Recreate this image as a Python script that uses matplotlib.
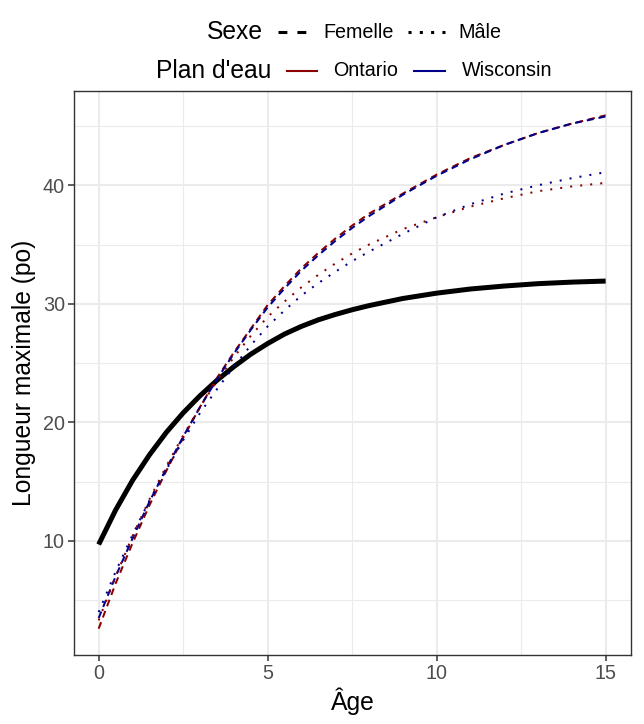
import matplotlib
matplotlib.use("Agg")
import matplotlib.pyplot as plt
from matplotlib.lines import Line2D

plt.rcParams['font.family'] = ['Liberation Sans', 'DejaVu Sans']

# ---- data ----
ages = [0, 0.5, 1, 1.5, 2, 2.5, 3, 3.5, 4, 4.5, 5, 5.5, 6, 6.5, 7, 7.5, 8,
        9, 10, 11, 12, 13, 14, 15]
overall = [9.7, 12.6, 15.1, 17.25, 19.15, 20.8, 22.25, 23.55, 24.7, 25.75, 26.65,
           27.45, 28.1, 28.65, 29.1, 29.5, 29.85,
           30.45, 30.9, 31.25, 31.5, 31.7, 31.83, 31.92]
ontario_femelle = [2.6, 6.4, 9.8, 13.0, 15.9, 18.7, 21.3, 23.75, 25.9, 27.9, 29.9,
                   31.5, 33.0, 34.3, 35.5, 36.6, 37.6,
                   39.3, 40.9, 42.3, 43.4, 44.4, 45.2, 45.9]
wisconsin_femelle = [3.5, 7.0, 10.2, 13.3, 16.1, 18.8, 21.3, 23.65, 25.8, 27.8, 29.7,
                     31.3, 32.8, 34.1, 35.3, 36.4, 37.4,
                     39.2, 40.8, 42.2, 43.4, 44.4, 45.2, 45.8]
ontario_male = [3.3, 7.0, 10.4, 13.5, 16.3, 18.9, 21.3, 23.5, 25.5, 27.3, 28.9,
                30.2, 31.4, 32.45, 33.4, 34.25, 35.0,
                36.3, 37.3, 38.2, 38.9, 39.5, 39.9, 40.2]
wisconsin_male = [4.0, 7.4, 10.5, 13.4, 16.0, 18.5, 20.8, 22.8, 24.7, 26.5, 28.1,
                  29.45, 30.7, 31.75, 32.7, 33.6, 34.4,
                  35.9, 37.3, 38.4, 39.3, 40.0, 40.6, 41.1]

x_ticks = [0, 5, 10, 15]
y_ticks = [10, 20, 30, 40]
sexe_labels = ["Femelle", "Mâle"]
plan_labels = ["Ontario", "Wisconsin"]

C_ONT = '#8B0000'
C_WIS = '#00008B'

W, H = 644, 724
fig = plt.figure(figsize=(W / 100, H / 100), dpi=100)
fig.patch.set_facecolor('white')

def fx(x):
    return x / W

def fy(y):
    return 1 - y / H

L, R, T, B = 74, 631, 91, 655
ax = fig.add_axes([fx(L), fy(B), (R - L) / W, (B - T) / H])

# grid like theme_bw
ax.set_xlim(-0.73, 15.75)
ax.set_ylim(0.38, 47.95)
ax.set_xticks(x_ticks)
ax.set_yticks(y_ticks)
ax.set_xticks([2.5, 7.5, 12.5], minor=True)
ax.set_yticks([5, 15, 25, 35, 45], minor=True)
ax.grid(True, which='major', color='#EBEBEB', lw=1.5)
ax.grid(True, which='minor', color='#EBEBEB', lw=0.8)
ax.set_axisbelow(True)
ax.tick_params(which='minor', length=0)
ax.tick_params(which='major', length=4.1, width=1.1, color='#333333',
               labelcolor='#4D4D4D', labelsize=14.2, pad=2.5)
for s in ax.spines.values():
    s.set_color('#333333')
    s.set_linewidth(1.0)

# data lines
ax.plot(ages, overall, color='black', lw=3.6, solid_capstyle='butt',
        solid_joinstyle='round', zorder=2)
dash = (3.45, 2.5)
dot = (1, 4)
ax.plot(ages, ontario_femelle, color=C_ONT, lw=1.45, ls=(0, dash), zorder=3)
ax.plot(ages, wisconsin_femelle, color=C_WIS, lw=1.45, ls=(0, dash), zorder=3)
ax.plot(ages, ontario_male, color=C_ONT, lw=1.45, ls=(0, dot), zorder=3)
ax.plot(ages, wisconsin_male, color=C_WIS, lw=1.45, ls=(0, dot), zorder=3)

ax.set_xlabel("Âge", fontsize=17.7, labelpad=3)
ax.set_ylabel("Longueur maximale (po)", fontsize=17.7, labelpad=5)

# ---- legends at top ----
r1, r2 = 32, 71
fig.text(fx(207), fy(r1), "Sexe", fontsize=17.7, va='center', ha='left')
fig.add_artist(Line2D([fx(278), fx(306)], [fy(r1), fy(r1)], color='black', lw=2.2,
                      ls=(0, (2.9, 3.3)), transform=fig.transFigure))
fig.text(fx(323), fy(r1), sexe_labels[0], fontsize=14.2, va='center', ha='left')
fig.add_artist(Line2D([fx(408), fx(445)], [fy(r1), fy(r1)], color='black', lw=2.2,
                      ls=(0, (1, 2.7)), transform=fig.transFigure))
fig.text(fx(458), fy(r1), sexe_labels[1], fontsize=14.2, va='center', ha='left')

fig.text(fx(156), fy(r2), "Plan d'eau", fontsize=17.7, va='center', ha='left')
fig.add_artist(Line2D([fx(287), fx(317)], [fy(r2), fy(r2)], color=C_ONT, lw=1.5,
                      transform=fig.transFigure))
fig.text(fx(333), fy(r2), plan_labels[0], fontsize=14.2, va='center', ha='left')
fig.add_artist(Line2D([fx(414), fx(445)], [fy(r2), fy(r2)], color=C_WIS, lw=1.5,
                      transform=fig.transFigure))
fig.text(fx(462), fy(r2), plan_labels[1], fontsize=14.2, va='center', ha='left')

fig.savefig("out.png", dpi=100, facecolor='white')
